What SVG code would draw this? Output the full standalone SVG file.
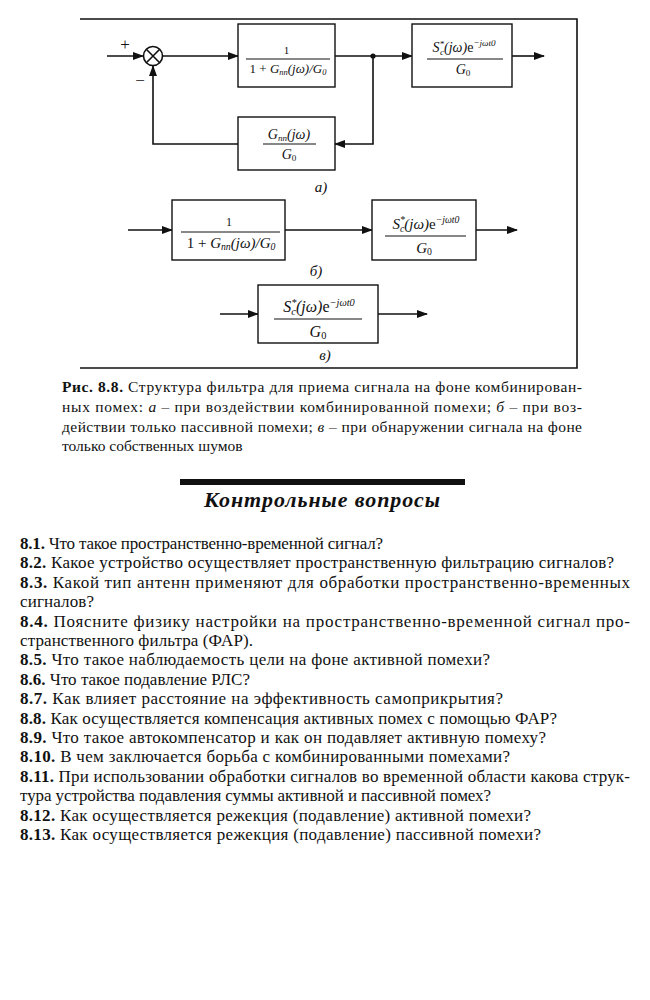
<svg xmlns="http://www.w3.org/2000/svg" width="650" height="1000" viewBox="0 0 650 1000">
<defs>
<marker id="ah" markerWidth="11" markerHeight="8" refX="10" refY="4" orient="auto" markerUnits="userSpaceOnUse"><path d="M0,0 L11,4 L0,8 z" fill="#111"/></marker>
</defs>
<style>
.ln{stroke:#111;stroke-width:1.6;fill:none}
.bx{stroke:#111;stroke-width:1.4;fill:#fff}
.fm{font-family:"Liberation Serif","Times New Roman",serif;font-style:italic;fill:#111;text-anchor:middle}
.bar{stroke:#111;stroke-width:1}
.lbl{font-family:"Liberation Serif",serif;font-style:italic;font-size:15px;fill:#111;text-anchor:middle}
.q{font-family:"Liberation Serif","Times New Roman",serif;font-size:17px;fill:#111}
.cap{font-family:"Liberation Serif","Times New Roman",serif;font-size:15.5px;fill:#111}
.b{font-weight:bold}
.i{font-style:italic}
.n{font-style:normal}
.sm{font-size:65%}
</style>
<rect width="650" height="1000" fill="#fff"/>
<path class="ln" d="M80,19 H577 V368 H80" stroke-width="1.2"/>

<g id="connectors">
<path class="ln" d="M107,56 H143" marker-end="url(#ah)"/>
<path class="ln" d="M163,56 H238" marker-end="url(#ah)"/>
<path class="ln" d="M335,56 H412" marker-end="url(#ah)"/>
<path class="ln" d="M512,56 H544" marker-end="url(#ah)"/>
<path class="ln" d="M373,56 V144 H335" marker-end="url(#ah)"/>
<path class="ln" d="M238,144 H153 V66" marker-end="url(#ah)"/>
<circle cx="373" cy="56" r="2.6" fill="#111"/>
<path class="ln" d="M128,230 H172" marker-end="url(#ah)"/>
<path class="ln" d="M285,230 H372" marker-end="url(#ah)"/>
<path class="ln" d="M476,230 H517" marker-end="url(#ah)"/>
<path class="ln" d="M220,314 H258" marker-end="url(#ah)"/>
<path class="ln" d="M378,314 H427" marker-end="url(#ah)"/>
</g>

<g id="sum">
<circle cx="153" cy="56" r="9.5" fill="#fff" stroke="#111" stroke-width="1.6"/>
<path class="ln" d="M146.3,49.3 L159.7,62.7 M159.7,49.3 L146.3,62.7" stroke-width="1.3"/>
<text x="125" y="50" class="lbl n" style="font-size:17px">+</text>
<text x="140" y="86" class="lbl n" style="font-size:17px">−</text>
</g>

<g id="block1">
<rect class="bx" x="238" y="24" width="97" height="63"/>
<text x="286.5" y="54" class="fm n" style="font-size:11px">1</text>
<line class="bar" x1="246" y1="59" x2="330" y2="59"/>
<text x="288" y="73" class="fm" style="font-size:13px"><tspan class="n">1 + </tspan>G<tspan class="sm" dy="2">пп</tspan><tspan dy="-2">(jω)/G</tspan><tspan class="sm" dy="2">0</tspan></text>
</g>

<g id="block2">
<rect class="bx" x="412" y="24" width="100" height="63"/>
<text x="464" y="52" class="fm" style="font-size:14px">S<tspan class="sm" dy="-5">*</tspan><tspan class="sm" dx="-4" dy="8">c</tspan><tspan dy="-3">(jω)</tspan><tspan class="n">e</tspan><tspan class="sm" dy="-6">−jωt0</tspan></text>
<line class="bar" x1="427" y1="59" x2="503" y2="59"/>
<text x="463" y="74" class="fm" style="font-size:14px">G<tspan class="sm n" dy="2">0</tspan></text>
</g>

<g id="block3">
<rect class="bx" x="238" y="117" width="97" height="53"/>
<text x="289" y="139" class="fm" style="font-size:14px">G<tspan class="sm" dy="2">пп</tspan><tspan dy="-2">(jω)</tspan></text>
<line class="bar" x1="263" y1="144" x2="316" y2="144"/>
<text x="289" y="159" class="fm" style="font-size:14px">G<tspan class="sm n" dy="2">0</tspan></text>
</g>
<text x="321" y="192" class="lbl">а)</text>

<g id="block4">
<rect class="bx" x="172" y="200" width="113" height="60"/>
<text x="229" y="226" class="fm n" style="font-size:12px">1</text>
<line class="bar" x1="181" y1="232" x2="280" y2="232"/>
<text x="231" y="248" class="fm" style="font-size:15px"><tspan class="n">1 + </tspan>G<tspan class="sm" dy="2">пп</tspan><tspan dy="-2">(jω)/G</tspan><tspan class="sm" dy="2">0</tspan></text>
</g>

<g id="block5">
<rect class="bx" x="372" y="200" width="104" height="60"/>
<text x="426" y="229" class="fm" style="font-size:15px">S<tspan class="sm" dy="-6">*</tspan><tspan class="sm" dx="-5" dy="9">c</tspan><tspan dy="-3">(jω)</tspan><tspan class="n">e</tspan><tspan class="sm" dy="-6">−jωt0</tspan></text>
<line class="bar" x1="385" y1="236" x2="466" y2="236"/>
<text x="424" y="253" class="fm" style="font-size:15px">G<tspan class="sm n" dy="2">0</tspan></text>
</g>
<text x="316" y="276" class="lbl">б)</text>

<g id="block6">
<rect class="bx" x="258" y="285" width="120" height="58"/>
<text x="319" y="312" class="fm" style="font-size:16px">S<tspan class="sm" dy="-6">*</tspan><tspan class="sm" dx="-5" dy="9">c</tspan><tspan dy="-3">(jω)</tspan><tspan class="n">e</tspan><tspan class="sm" dy="-6">−jωt0</tspan></text>
<line class="bar" x1="274" y1="319" x2="362" y2="319"/>
<text x="318" y="337" class="fm" style="font-size:16px">G<tspan class="sm n" dy="2">0</tspan></text>
</g>
<text x="325" y="360" class="lbl">в)</text>

<g id="caption">
<text class="cap" x="62" y="392" textLength="520" lengthAdjust="spacing"><tspan class="b">Рис. 8.8.</tspan> Структура фильтра для приема сигнала на фоне комбинирован-</text>
<text class="cap" x="62" y="412" textLength="520" lengthAdjust="spacing">ных помех: <tspan class="i">а</tspan> – при воздействии комбинированной помехи; <tspan class="i">б</tspan> – при воз-</text>
<text class="cap" x="62" y="432" textLength="520" lengthAdjust="spacing">действии только пассивной помехи; <tspan class="i">в</tspan> – при обнаружении сигнала на фоне</text>
<text class="cap" x="62" y="451">только собственных шумов</text>
</g>

<g id="heading">
<rect x="180" y="479" width="285" height="6" fill="#111"/>
<text x="322" y="507" font-family="Liberation Serif, serif" font-weight="bold" font-style="italic" font-size="22" fill="#111" text-anchor="middle" textLength="236" lengthAdjust="spacing">Контрольные вопросы</text>
</g>

<g id="questions">
<text class="q" x="20" y="549" textLength="363" lengthAdjust="spacing"><tspan class="b">8.1.</tspan> Что такое пространственно-временной сигнал?</text>
<text class="q" x="20" y="568.4" textLength="594" lengthAdjust="spacing"><tspan class="b">8.2.</tspan> Какое устройство осуществляет пространственную фильтрацию сигналов?</text>
<text class="q" x="20" y="587.8" textLength="610" lengthAdjust="spacing"><tspan class="b">8.3.</tspan> Какой тип антенн применяют для обработки пространственно-временных</text>
<text class="q" x="20" y="607.2" textLength="74" lengthAdjust="spacing">сигналов?</text>
<text class="q" x="20" y="626.6" textLength="610" lengthAdjust="spacing"><tspan class="b">8.4.</tspan> Поясните физику настройки на пространственно-временной сигнал про-</text>
<text class="q" x="20" y="646" textLength="233" lengthAdjust="spacing">странственного фильтра (ФАР).</text>
<text class="q" x="20" y="665.4" textLength="470" lengthAdjust="spacing"><tspan class="b">8.5.</tspan> Что такое наблюдаемость цели на фоне активной помехи?</text>
<text class="q" x="20" y="684.8" textLength="230" lengthAdjust="spacing"><tspan class="b">8.6.</tspan> Что такое подавление РЛС?</text>
<text class="q" x="20" y="704.2" textLength="483" lengthAdjust="spacing"><tspan class="b">8.7.</tspan> Как влияет расстояние на эффективность самоприкрытия?</text>
<text class="q" x="20" y="723.6" textLength="537" lengthAdjust="spacing"><tspan class="b">8.8.</tspan> Как осуществляется компенсация активных помех с помощью ФАР?</text>
<text class="q" x="20" y="743" textLength="526" lengthAdjust="spacing"><tspan class="b">8.9.</tspan> Что такое автокомпенсатор и как он подавляет активную помеху?</text>
<text class="q" x="20" y="762.4" textLength="490" lengthAdjust="spacing"><tspan class="b">8.10.</tspan> В чем заключается борьба с комбинированными помехами?</text>
<text class="q" x="20" y="781.8" textLength="610" lengthAdjust="spacing"><tspan class="b">8.11.</tspan> При использовании обработки сигналов во временной области какова струк-</text>
<text class="q" x="20" y="801.2" textLength="471" lengthAdjust="spacing">тура устройства подавления суммы активной и пассивной помех?</text>
<text class="q" x="20" y="820.6" textLength="511" lengthAdjust="spacing"><tspan class="b">8.12.</tspan> Как осуществляется режекция (подавление) активной помехи?</text>
<text class="q" x="20" y="840" textLength="521" lengthAdjust="spacing"><tspan class="b">8.13.</tspan> Как осуществляется режекция (подавление) пассивной помехи?</text>
</g>
</svg>
